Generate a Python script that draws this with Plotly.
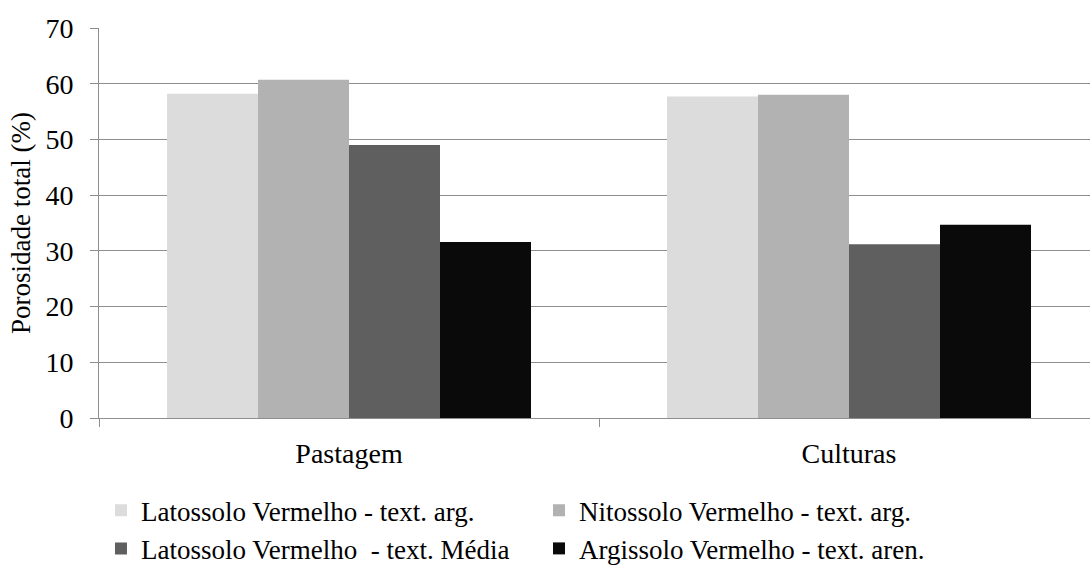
import plotly.graph_objects as go

# Porosidade total por uso do solo e classe de solo
usos = ["Pastagem", "Culturas"]
solos = [
    "Latossolo Vermelho - text. arg.",
    "Nitossolo Vermelho - text. arg.",
    "Latossolo Vermelho  - text. Média",
    "Argissolo Vermelho - text. aren.",
]
latossolo_arg = [58.2, 57.7]
nitossolo_arg = [60.7, 58.0]
latossolo_media = [49.0, 31.2]
argissolo_aren = [31.6, 34.7]
cores = ["#dcdcdc", "#b2b2b2", "#5f5f5f", "#0a0a0a"]
y_ticks = [0, 10, 20, 30, 40, 50, 60, 70]

GRID = "#8e8e8e"
FONT = "Times New Roman"

fig = go.Figure()
for nome, valores, cor in zip(
    solos, [latossolo_arg, nitossolo_arg, latossolo_media, argissolo_aren], cores
):
    fig.add_trace(
        go.Bar(
            x=usos,
            y=valores,
            name=nome,
            marker=dict(color=cor, line=dict(width=0)),
        )
    )

fig.update_layout(
    width=1090,
    height=566,
    font=dict(family=FONT, size=28, color="black"),
    margin=dict(l=99, r=0, t=28, b=147.5, autoexpand=False),
    paper_bgcolor="white",
    plot_bgcolor="white",
    barmode="group",
    bargap=0.272,
    bargroupgap=0,
    showlegend=True,
    legend=dict(
        orientation="h",
        x=0.002,
        xanchor="left",
        y=-0.175,
        yanchor="top",
        entrywidth=393,
        entrywidthmode="pixels",
        font=dict(family=FONT, size=27, color="black"),
        bgcolor="rgba(0,0,0,0)",
        traceorder="normal",
    ),
)

fig.update_xaxes(
    type="category",
    range=[-0.5, 1.482],
    showgrid=False,
    showline=True,
    linecolor=GRID,
    linewidth=1,
    ticks="outside",
    tickson="boundaries",
    ticklen=8,
    tickcolor=GRID,
    tickwidth=1,
    ticklabelstandoff=10,
    tickfont=dict(family=FONT, size=28, color="black"),
)

fig.update_yaxes(
    range=[0, 70],
    tickvals=y_ticks,
    showgrid=True,
    gridcolor=GRID,
    gridwidth=1,
    zeroline=False,
    showline=True,
    linecolor=GRID,
    linewidth=1,
    ticks="outside",
    ticklen=8,
    tickcolor=GRID,
    tickwidth=1,
    ticklabelstandoff=11,
    tickfont=dict(family=FONT, size=28, color="black"),
    title=dict(
        text="Porosidade total (%)",
        standoff=6,
        font=dict(family=FONT, size=27, color="black"),
    ),
)

fig.write_html("out.html")
